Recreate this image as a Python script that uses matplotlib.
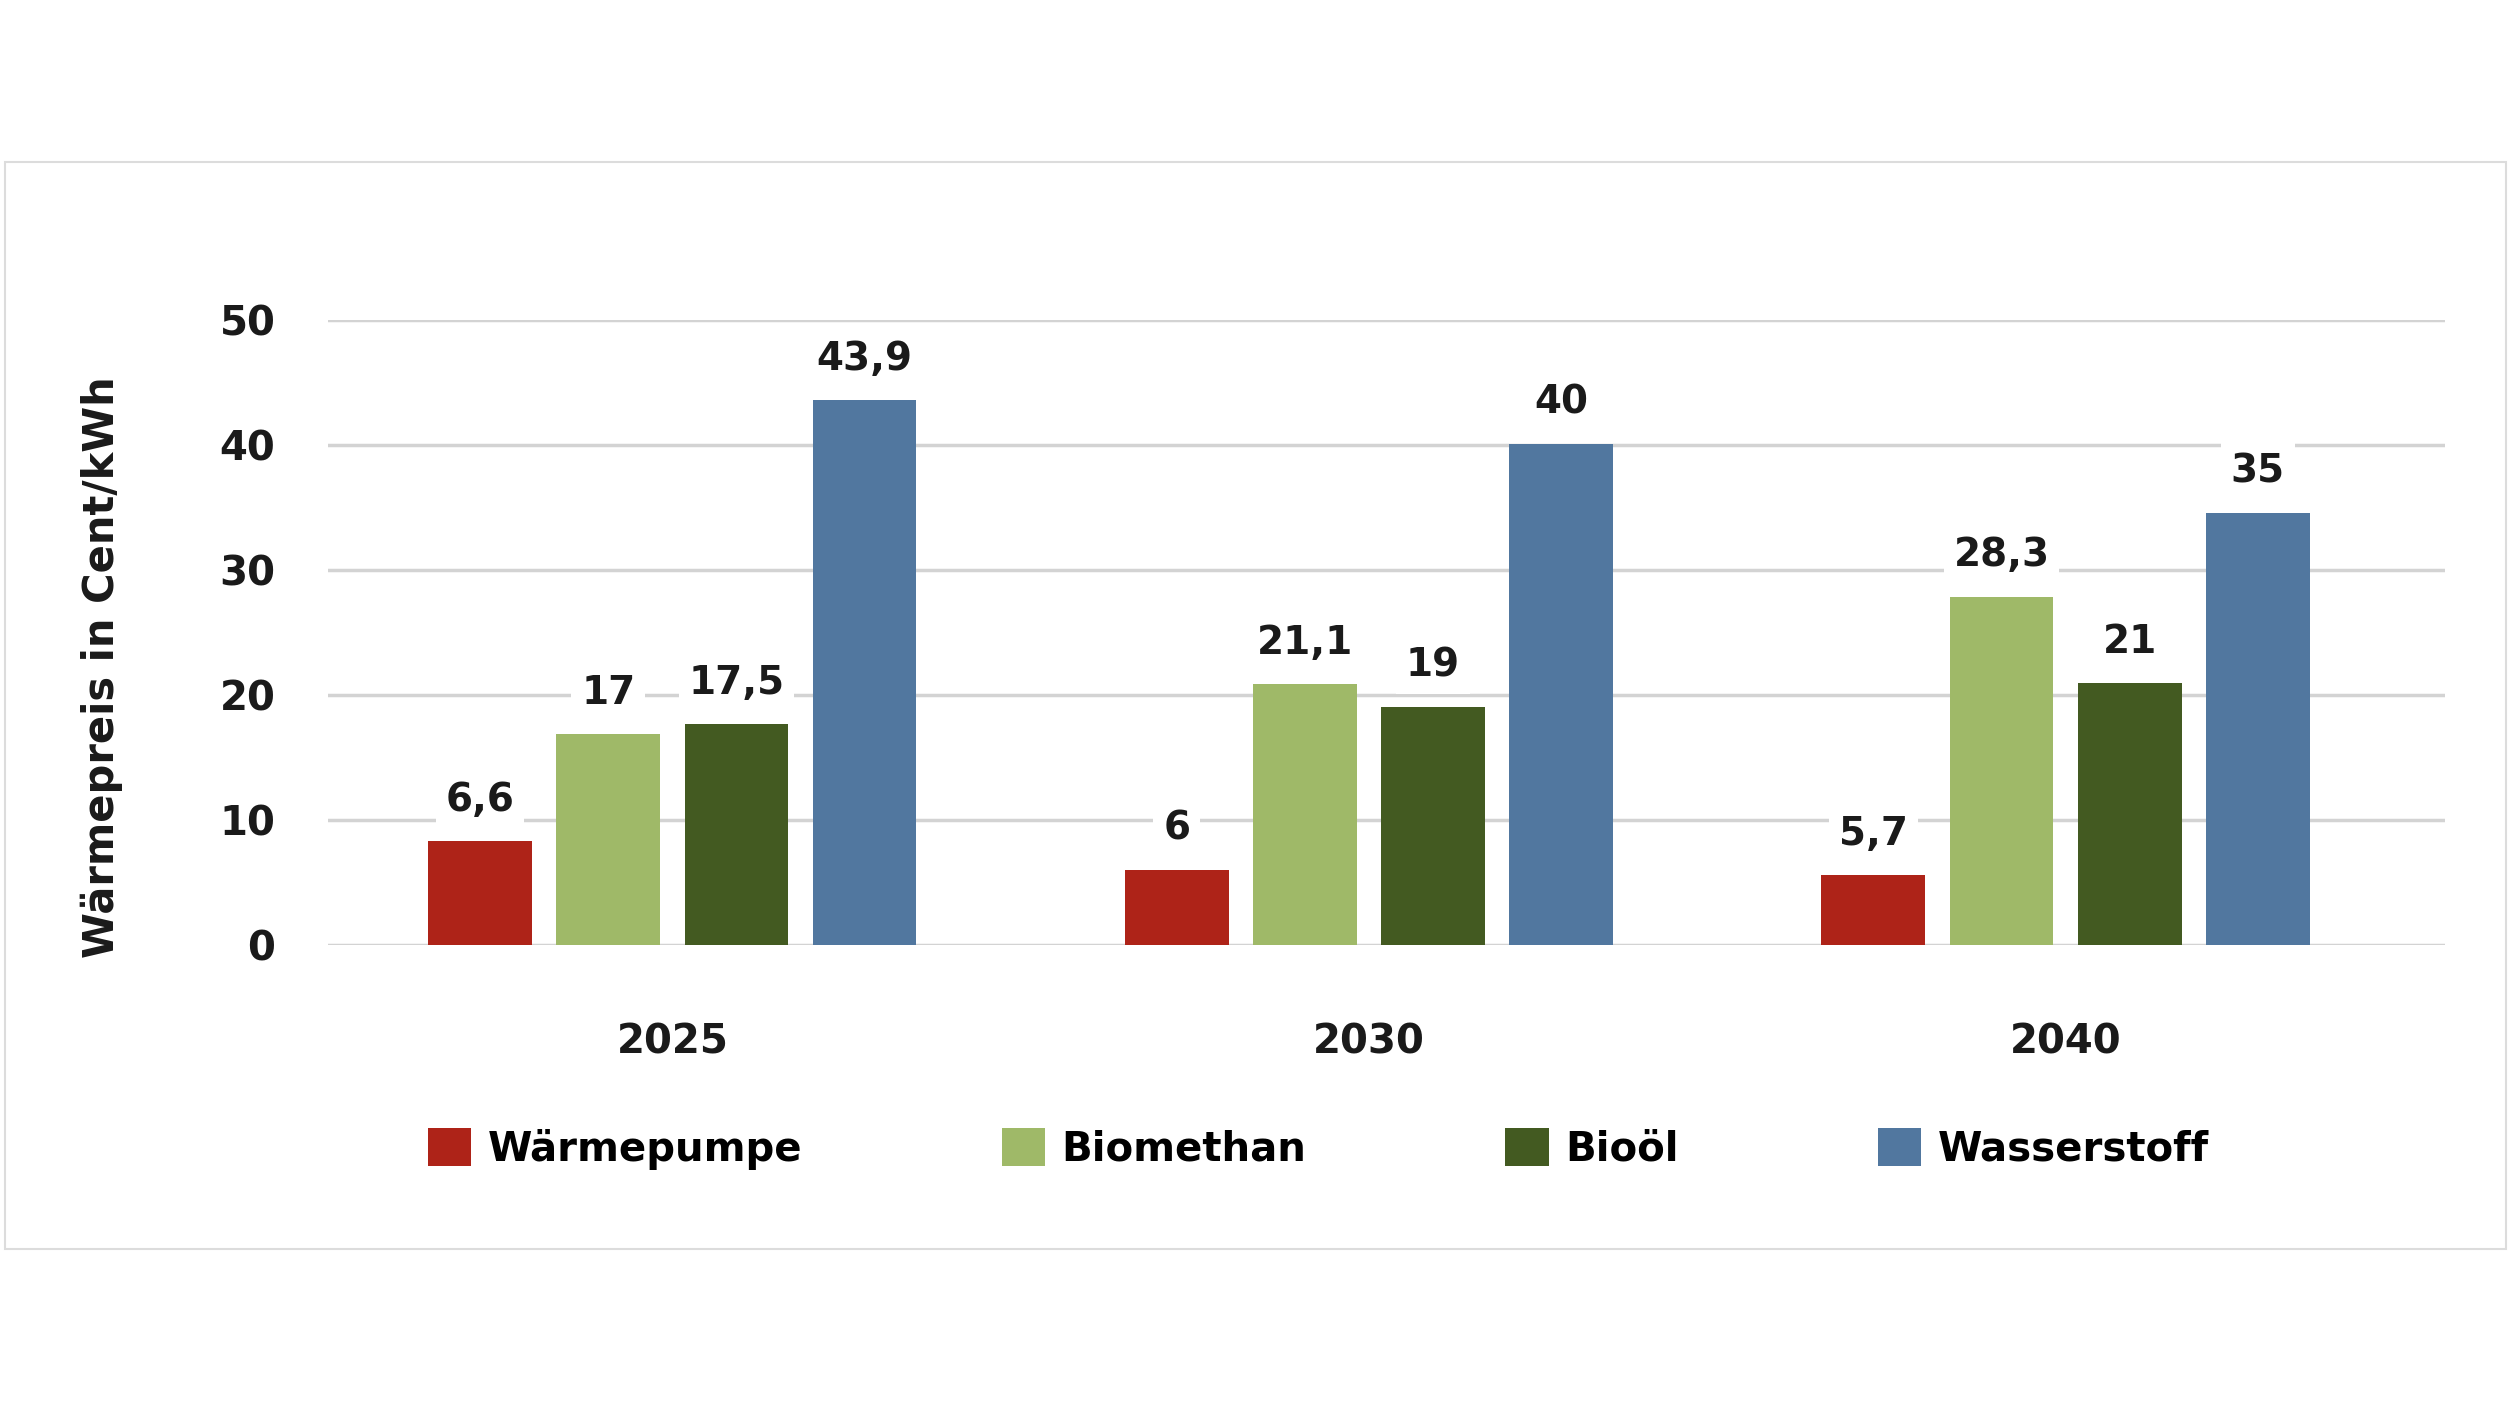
import numpy as np
import matplotlib.pyplot as plt
from matplotlib.patches import Rectangle

years = ['2025', '2030', '2040']
series = ['Wärmepumpe', 'Biomethan', 'Bioöl', 'Wasserstoff']
colors = ['#ae2318', '#9fb968', '#435a21', '#51779f']

# bar heights as drawn in the source, labels as printed
waermepumpe = [8.3, 6.0, 5.6]
biomethan = [16.9, 20.9, 27.9]
biooel = [17.7, 19.1, 21.0]
wasserstoff = [43.6, 40.1, 34.6]
heights = [waermepumpe, biomethan, biooel, wasserstoff]

waermepumpe_lbl = ['6,6', '6', '5,7']
biomethan_lbl = ['17', '21,1', '28,3']
biooel_lbl = ['17,5', '19', '21']
wasserstoff_lbl = ['43,9', '40', '35']
labels = [waermepumpe_lbl, biomethan_lbl, biooel_lbl, wasserstoff_lbl]

plt.rcParams['font.family'] = ['DejaVu Sans']
plt.rcParams['font.weight'] = 'bold'

fig = plt.figure(figsize=(25.11, 14.13), dpi=100)
fig.patches.append(Rectangle((0.002, 0.116), 0.996, 0.7695, transform=fig.transFigure,
                             facecolor='none', edgecolor='#dcdcdc', linewidth=1.5))

ax = fig.add_axes([0.1307, 0.3311, 0.8431, 0.4421])
x = np.arange(len(years))
w = 0.149
step = 0.184
for k in range(4):
    xs = x + (k - 1.5) * step
    bars = ax.bar(xs, heights[k], width=w, color=colors[k], label=series[k], zorder=3)
    for b, t in zip(bars, labels[k]):
        ax.annotate(t, (b.get_x() + b.get_width() / 2, b.get_height()),
                    xytext=(0, 16), textcoords='offset points', ha='center', va='bottom',
                    fontsize=28, fontweight='bold', color='#1a1a1a', zorder=4,
                    bbox=dict(boxstyle='square,pad=0.25', fc='white', ec='none'))

ax.set_xlim(-0.494, 2.545)
ax.set_ylim(0, 50)
ax.set_yticks([0, 10, 20, 30, 40, 50])
ax.set_xticks(x)
ax.set_xticklabels(years)
ax.tick_params(axis='both', length=0, labelsize=29, colors='#1a1a1a')
ax.tick_params(axis='y', pad=38)
ax.tick_params(axis='x', pad=56)
ax.yaxis.grid(True, color='#d3d3d3', linewidth=2.5, zorder=0)
for s in ax.spines.values():
    s.set_visible(False)
ax.set_ylabel('Wärmepreis in Cent/kWh', fontsize=30, fontweight='bold', color='#1a1a1a')
ax.yaxis.set_label_coords(-0.097, 0.445)

fig.legend(loc='center', bbox_to_anchor=(0.525, 0.187), ncol=4, frameon=False,
           fontsize=29, handlelength=1.08, handleheight=1.08, handletextpad=0.4,
           columnspacing=4.95)

plt.savefig('out.png', dpi=100)
